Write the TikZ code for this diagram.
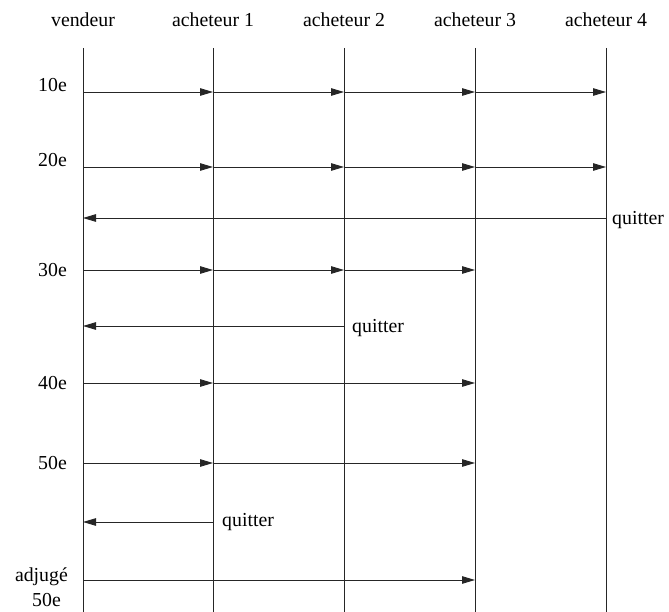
\documentclass[tikz,border=0pt]{standalone}
\usepackage{fontspec}
\setmainfont{Liberation Serif}
\usetikzlibrary{arrows.meta}
\begin{document}
\begin{tikzpicture}[x=1pt,y=-1pt,
  lbl/.style={font=\fontsize{19.8}{22}\selectfont, inner sep=0pt},
  life/.style={line width=0.9pt, draw=black!85},
  msg/.style={line width=0.9pt, draw=black!85, -{Triangle[length=13pt,width=7.5pt]}}]
\useasboundingbox (0,0) rectangle (669,612);
% headers
\foreach \n/\x/\t in {v/83/vendeur,a/213/acheteur 1,b/344/acheteur 2,c/475/acheteur 3,d/606/acheteur 4}{
  \node[lbl] (h\n) at (\x,20) {\t};
  \coordinate (top\n) at (\x,48);
  \coordinate (bot\n) at (\x,612);
  \draw[life] (top\n) -- (bot\n);
  \foreach \r/\y in {1/92,2/167,3/218,4/270,5/326,6/383,7/463,8/522,9/580}{
    \coordinate (\n\r) at (\x,\y);
  }
}
% row labels
\node[lbl, anchor=east] (l10) at (67,85) {10e};
\node[lbl, anchor=east] (l20) at (67,160) {20e};
\node[lbl, anchor=east] (l30) at (67,270) {30e};
\node[lbl, anchor=east] (l40) at (67,383) {40e};
\node[lbl, anchor=east] (l50) at (67,463) {50e};
\node[lbl, anchor=east] (ladj) at (68,577) {adjugé};
\node[lbl, anchor=east] (l50b) at (61,600) {50e};
% 10e
\draw[msg] (v1) -- (a1); \draw[msg] (a1) -- (b1); \draw[msg] (b1) -- (c1); \draw[msg] (c1) -- (d1);
% 20e
\draw[msg] (v2) -- (a2); \draw[msg] (a2) -- (b2); \draw[msg] (b2) -- (c2); \draw[msg] (c2) -- (d2);
% quitter 4
\draw[msg] (d3) -- (v3);
\node[lbl, anchor=west] (q4) at (612,220) {quitter};
% 30e
\draw[msg] (v4) -- (a4); \draw[msg] (a4) -- (b4); \draw[msg] (b4) -- (c4);
% quitter 2
\draw[msg] (b5) -- (v5);
\node[lbl, anchor=west] (q2) at (352,328) {quitter};
% 40e
\draw[msg] (v6) -- (a6); \draw[msg] (a6) -- (c6);
% 50e
\draw[msg] (v7) -- (a7); \draw[msg] (a7) -- (c7);
% quitter 1
\draw[msg] (a8) -- (v8);
\node[lbl, anchor=west] (q1) at (222,522) {quitter};
% adjuge
\draw[msg] (v9) -- (c9);
\end{tikzpicture}
\end{document}
